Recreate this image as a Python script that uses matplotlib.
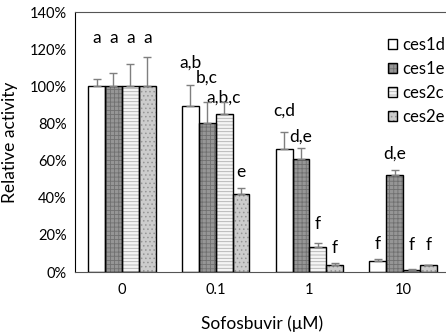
import matplotlib
matplotlib.use("Agg")
import matplotlib.pyplot as plt
import numpy as np
from matplotlib.patches import Patch
from matplotlib.ticker import PercentFormatter

plt.rcParams['font.family'] = ['Lato', 'DejaVu Sans']
plt.rcParams['hatch.linewidth'] = 0.6

categories = ["0", "0.1", "1", "10"]
series = ["ces1d", "ces1e", "ces2c", "ces2e"]
values = {
    "ces1d": [100, 89.5, 66.5, 5.7],
    "ces1e": [100, 80.3, 61.0, 52.3],
    "ces2c": [100, 85.2, 13.3, 1.0],
    "ces2e": [100, 42.2, 3.6, 3.6],
}
errors = {
    "ces1d": [4.1, 11.0, 9.0, 1.3],
    "ces1e": [7.2, 11.0, 6.0, 2.7],
    "ces2c": [12.2, 6.5, 2.5, 0.5],
    "ces2e": [15.6, 3.0, 1.2, 0.3],
}
letters = {
    "ces1d": ["a", "a,b", "c,d", "f"],
    "ces1e": ["a", "b,c", "d,e", "d,e"],
    "ces2c": ["a", "a,b,c", "f", "f"],
    "ces2e": ["a", "e", "f", "f"],
}
letter_y = {
    "ces1d": [126, 113, 86.7, 15],
    "ces1e": [126, 104.5, 72.7, 63.6],
    "ces2c": [126, 94, 25.8, 14.5],
    "ces2e": [126, 54, 13, 14.5],
}

styles = {
    "ces1d": dict(fc="white", hatch=None, hc="white"),
    "ces1e": dict(fc="#969696", hatch="++++", hc="#707070"),
    "ces2c": dict(fc="#f4f4f4", hatch="-----", hc="#b0b0b0"),
    "ces2e": dict(fc="#cccccc", hatch="....", hc="#959595"),
}

fig = plt.figure(figsize=(4.46, 3.36), dpi=100)
ax = fig.add_axes([75/446, 64/336, 375/446, 260/336])

x = np.arange(len(categories))
w = 0.18
handles = []
for i, s in enumerate(series):
    pos = x + (i - 1.5) * w
    st = styles[s]
    ax.bar(pos, values[s], w, color=st["fc"], hatch=st["hatch"],
           edgecolor=st["hc"], linewidth=0, zorder=2)
    ax.bar(pos, values[s], w, fill=False, edgecolor="black", linewidth=1.0, zorder=3)
    ax.errorbar(pos, values[s], yerr=[np.zeros(len(categories)), errors[s]],
                fmt="none", ecolor="#7f7f7f", elinewidth=1.0, capsize=3, capthick=1.0, zorder=4)
    for p, lab, ly in zip(pos, letters[s], letter_y[s]):
        ax.text(p, ly, lab, ha="center", va="center", fontsize=12.5, color="black")
    h1 = Patch(facecolor=st["fc"], hatch=st["hatch"], edgecolor=st["hc"], linewidth=0)
    h2 = Patch(fill=False, edgecolor="black", linewidth=1.0)
    handles.append((h1, h2))

ax.set_xlim(-0.5, 3.5)
ax.set_ylim(0, 140)
ax.set_yticks(np.arange(0, 141, 20))
ax.yaxis.set_major_formatter(PercentFormatter(decimals=0))
ax.set_xticks(x)
ax.set_xticklabels(categories)
ax.tick_params(axis="both", length=0, labelsize=10.5)
ax.tick_params(axis="y", pad=6)
ax.tick_params(axis="x", pad=8)
ax.spines["right"].set_visible(False)
ax.spines["top"].set_color("#555555")
ax.spines["left"].set_color("black")
ax.spines["bottom"].set_color("#555555")
ax.set_ylabel("Relative activity", fontsize=12.5, labelpad=8)
ax.set_xlabel("Sofosbuvir (\u03bcM)", fontsize=12.5, labelpad=13)

ax.legend(handles, series, loc="upper left", bbox_to_anchor=(0.835, 0.905),
          frameon=False, fontsize=12, handlelength=0.55, handleheight=0.55,
          handletextpad=0.3, labelspacing=0.48, borderaxespad=0, borderpad=0)

fig.savefig("out.png", dpi=100)
